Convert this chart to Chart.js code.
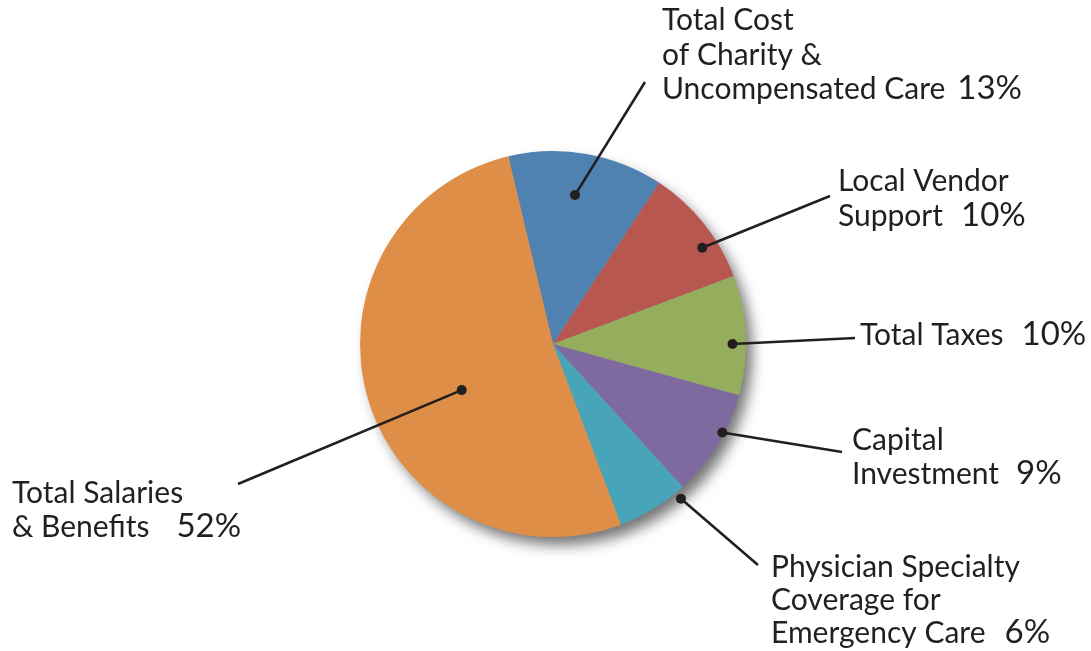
<!DOCTYPE html>
<html>
<head>
<meta charset="utf-8">
<script src="https://cdn.jsdelivr.net/npm/chart.js@4/dist/chart.umd.min.js"></script>
<style>
html,body{margin:0;padding:0;background:#fff;}
#wrap{width:1091px;height:651px;position:relative;}
</style>
</head>
<body>
<div id="wrap"><canvas id="c" width="1091" height="651"></canvas></div>
<script>
// ---- data ----
const categories = [
  "Total Cost of Charity & Uncompensated Care",
  "Local Vendor Support",
  "Total Taxes",
  "Capital Investment",
  "Physician Specialty Coverage for Emergency Care",
  "Total Salaries & Benefits"
];
const labelLines = [
  ["Total Cost", "of Charity &", "Uncompensated Care"],
  ["Local Vendor", "Support"],
  ["Total Taxes"],
  ["Capital", "Investment"],
  ["Physician Specialty", "Coverage for", "Emergency Care"],
  ["Total Salaries", "& Benefits"]
];
const values = [13, 10, 10, 9, 6, 52];
const colors = ["#4f82b0", "#b85750", "#95ae5e", "#7e6a9f", "#48a4b9", "#de8e46"];

// ---- label layout (text position, leader end, dot anchor on slice) ----
const labelLayout = [
  {x: 662, y: 30,  lh: 34.5, end: [645, 82],  angle: 8.4,   frac: 0.78, gap: 12},
  {x: 838, y: 191, lh: 35,   end: [830, 196], angle: 57.2,  frac: 0.92, gap: 18},
  {x: 860, y: 345, lh: 34,   end: [855, 338], angle: 90,    frac: 0.93, gap: 18},
  {x: 852, y: 450, lh: 34,   end: [842, 452], angle: 117.6, frac: 0.99, gap: 17},
  {x: 771, y: 577, lh: 33,   end: [758, 565], angle: 140.4, frac: 1.04, gap: 19},
  {x: 12,  y: 503, lh: 34,   end: [238, 484], angle: 243.2, frac: 0.53, gap: 27}
];
const textFont = '400 30px Lato, "Open Sans", sans-serif';
const pctFont = '400 33px Lato, "Open Sans", sans-serif';
const textColor = '#231f20';

const shadowPlugin = {
  id: 'shadow',
  beforeDatasetsDraw(chart) {
    const arc = chart.getDatasetMeta(0).data[0];
    if (!arc) return;
    const ctx = chart.ctx;
    ctx.save();
    ctx.shadowColor = 'rgba(0,0,0,0.55)';
    ctx.shadowBlur = 14;
    ctx.shadowOffsetX = 7;
    ctx.shadowOffsetY = 9;
    ctx.fillStyle = '#999';
    ctx.beginPath();
    ctx.arc(arc.x, arc.y, arc.outerRadius - 1, 0, Math.PI * 2);
    ctx.fill();
    ctx.restore();
  }
};

const labelPlugin = {
  id: 'labels',
  afterDatasetsDraw(chart) {
    const arc0 = chart.getDatasetMeta(0).data[0];
    const cx = arc0.x, cy = arc0.y, R = arc0.outerRadius;
    const ctx = chart.ctx;
    ctx.save();
    labelLayout.forEach((L, i) => {
      const a = (L.angle - 90) * Math.PI / 180;
      const dx = cx + Math.cos(a) * R * L.frac;
      const dy = cy + Math.sin(a) * R * L.frac;
      ctx.strokeStyle = textColor;
      ctx.lineWidth = 2.6;
      ctx.beginPath();
      ctx.moveTo(dx, dy);
      ctx.lineTo(L.end[0], L.end[1]);
      ctx.stroke();
      ctx.fillStyle = textColor;
      ctx.beginPath();
      ctx.arc(dx, dy, 5, 0, Math.PI * 2);
      ctx.fill();
      // text
      ctx.textBaseline = 'alphabetic';
      ctx.textAlign = 'left';
      const lines = labelLines[i];
      lines.forEach((t, j) => {
        ctx.font = textFont;
        const y = L.y + j * L.lh;
        ctx.fillText(t, L.x, y);
        if (j === lines.length - 1) {
          const w = ctx.measureText(t).width;
          ctx.font = pctFont;
          ctx.fillText(values[i] + '%', L.x + w + L.gap, y);
        }
      });
    });
    ctx.restore();
  }
};

new Chart(document.getElementById('c'), {
  type: 'pie',
  data: {
    labels: categories,
    datasets: [{
      data: values,
      backgroundColor: colors,
      borderWidth: 0
    }]
  },
  options: {
    responsive: false,
    animation: false,
    rotation: -13.4,
    layout: {padding: {top: 151, bottom: 114, left: 360, right: 345}},
    plugins: {legend: {display: false}, tooltip: {enabled: false}}
  },
  plugins: [shadowPlugin, labelPlugin]
});
</script>
</body>
</html>
